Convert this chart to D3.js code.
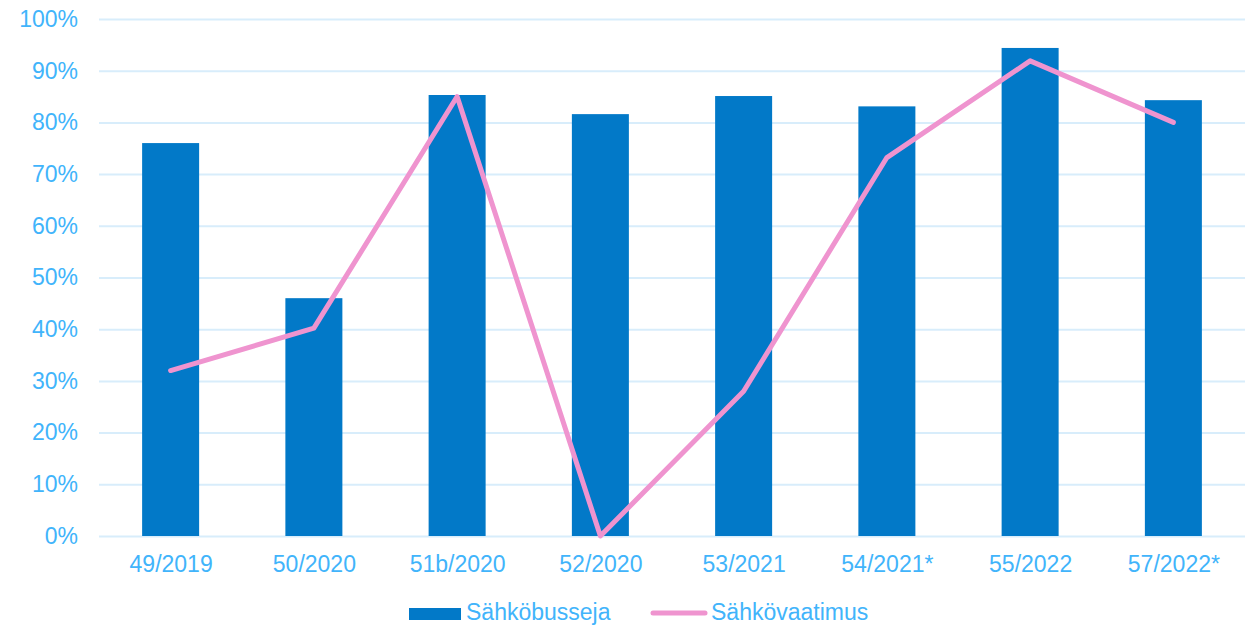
<!DOCTYPE html>
<meta charset="utf-8">
<style>
    body { margin: 0; background: #fff; }
    text { font-family: "Liberation Sans", Arial, sans-serif; }
</style>
<body>
<script src="https://d3js.org/d3.v7.min.js"></script>
<script>
    // chart data
    var categories = ["49/2019", "50/2020", "51b/2020", "52/2020", "53/2021", "54/2021*", "55/2022", "57/2022*"];
    var busValues = [76, 46, 85.3, 81.6, 85.1, 83.1, 94.4, 84.3];
    var demandValues = [32, 40.2, 85, 0, 28, 73.2, 91.9, 80];
    var yTicks = [0, 10, 20, 30, 40, 50, 60, 70, 80, 90, 100];
    var seriesNames = ["Sähköbusseja", "Sähkövaatimus"];

    var textColor = "#41b4fb",
        barColor = "#0279c8",
        lineColor = "#ef94cf",
        gridColor = "#d8edfb";

    var margin = { top: 19, right: 6, bottom: 90, left: 99 },
        width = 1251 - margin.left - margin.right,
        height = 626 - margin.top - margin.bottom;

    var svg = d3.select("body").append("svg")
        .attr("width", 1251)
        .attr("height", 626);

    var g = svg.append("g")
        .attr("transform", "translate(" + margin.left + "," + margin.top + ")");

    var xc = d3.scalePoint()
        .domain(categories)
        .range([0, width])
        .padding(0.5);

    var y = d3.scaleLinear()
        .domain([0, 100])
        .range([height, 0]);

    // gridlines
    g.append("g")
        .call(d3.axisLeft(y).tickValues(yTicks).tickSize(-width).tickFormat(""))
        .call(function (a) {
            a.select(".domain").remove();
            a.selectAll("line").attr("stroke", gridColor).attr("stroke-width", 2);
        });

    // y labels
    g.append("g")
        .call(d3.axisLeft(y).tickValues(yTicks).tickSize(0).tickPadding(21)
            .tickFormat(function (d) { return d + "%"; }))
        .call(function (a) {
            a.select(".domain").remove();
            a.selectAll("text")
                .attr("fill", textColor)
                .style("font-size", "23px")
                .style("font-family", "'Liberation Sans', Arial, sans-serif");
        });

    // bars
    g.selectAll(".bar")
        .data(busValues)
        .enter().append("rect")
        .attr("class", "bar")
        .attr("x", function (d, i) { return xc(categories[i]) - 28.5; })
        .attr("width", 57)
        .attr("y", function (d) { return y(d); })
        .attr("height", function (d) { return height - y(d); })
        .attr("fill", barColor);

    // x labels
    g.append("g")
        .attr("transform", "translate(0," + height + ")")
        .call(d3.axisBottom(xc).tickSize(0).tickPadding(20))
        .call(function (a) {
            a.select(".domain").remove();
            a.selectAll("text")
                .attr("fill", textColor)
                .style("font-size", "23px")
                .style("font-family", "'Liberation Sans', Arial, sans-serif");
        });

    // line
    var line = d3.line()
        .x(function (d, i) { return xc(categories[i]); })
        .y(function (d) { return y(d); });

    g.append("path")
        .datum(demandValues)
        .attr("d", line)
        .attr("fill", "none")
        .attr("stroke", lineColor)
        .attr("stroke-width", 5)
        .attr("stroke-linejoin", "round")
        .attr("stroke-linecap", "round");

    // legend
    var legend = svg.append("g");
    legend.append("rect")
        .attr("x", 409).attr("y", 608)
        .attr("width", 52).attr("height", 12)
        .attr("fill", barColor);
    legend.append("text")
        .attr("x", 466).attr("y", 620)
        .attr("fill", textColor)
        .style("font-size", "23px")
        .text(seriesNames[0]);
    legend.append("line")
        .attr("x1", 653).attr("x2", 705)
        .attr("y1", 613).attr("y2", 613)
        .attr("stroke", lineColor)
        .attr("stroke-width", 5)
        .attr("stroke-linecap", "round");
    legend.append("text")
        .attr("x", 711).attr("y", 620)
        .attr("fill", textColor)
        .style("font-size", "23px")
        .text(seriesNames[1]);
</script>
</body>
